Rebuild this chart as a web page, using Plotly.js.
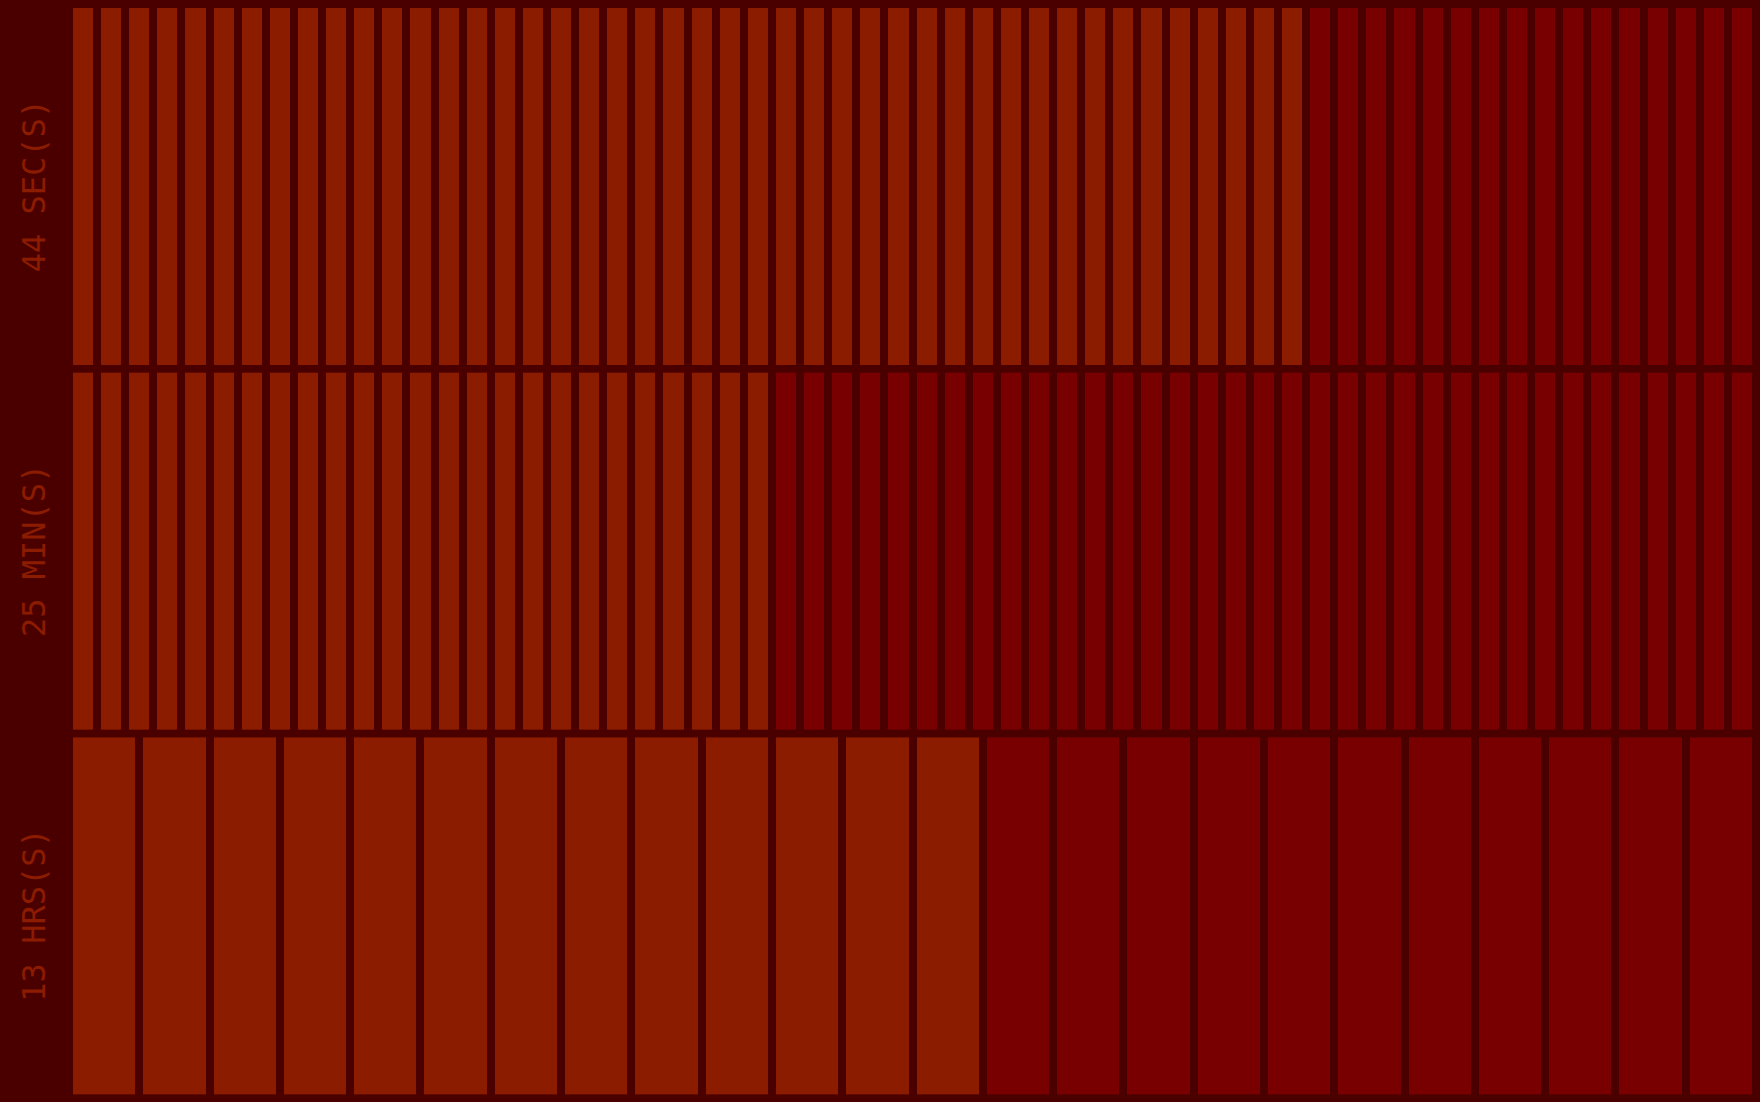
<!DOCTYPE html>
<html>
<head>
<meta charset="utf-8">
<script src="https://cdn.plot.ly/plotly-3.0.1.min.js"></script>
<style>html,body{margin:0;padding:0;background:#4b0000;}#chart{width:1760px;height:1102px;}</style>
</head>
<body>
<div id="chart"></div>
<script>
// Data: top row seconds, middle minutes, bottom hours
var rowLabels = ["44 SEC(S)", "25 MIN(S)", "13 HRS(S)"];
var litCounts = [44, 25, 13];
var totalCells = [60, 60, 24];

var BG = "#4b0000", LIT = "#8b1c00", UNLIT = "#780000";

var traces = [], annotations = [];
var layout = {
  width: 1760, height: 1102,
  paper_bgcolor: BG, plot_bgcolor: BG,
  margin: {l: 69, r: 4, t: 4, b: 4},
  showlegend: false
};

for (var r = 0; r < 3; r++) {
  var n = totalCells[r];
  var xs = [], zrow = [];
  for (var i = 0; i < n; i++) { xs.push(i); zrow.push(i < litCounts[r] ? 1 : 0); }
  var ax = r === 0 ? "" : String(r + 1);
  traces.push({
    type: "heatmap",
    x: xs, y: [0], z: [zrow],
    xaxis: "x" + ax, yaxis: "y" + ax,
    zmin: 0, zmax: 1,
    colorscale: [[0, UNLIT], [1, LIT]],
    showscale: false, xgap: 8, ygap: 8,
    hoverinfo: "skip"
  });
  var dTop = 1 - r / 3, dBot = 1 - (r + 1) / 3;
  layout["xaxis" + ax] = {range: [-0.5, n - 0.5], visible: false, fixedrange: true, anchor: "y" + ax};
  layout["yaxis" + ax] = {domain: [dBot, dTop], range: [-0.5, 0.5], visible: false, fixedrange: true, anchor: "x" + ax};
  annotations.push({
    text: rowLabels[r], xref: "paper", yref: "paper",
    x: -35 / 1687, y: (dTop + dBot) / 2, xanchor: "center", yanchor: "middle",
    textangle: -90, showarrow: false,
    font: {family: "DejaVu Sans Mono, monospace", size: 32, color: LIT}
  });
}
layout.annotations = annotations;

Plotly.newPlot("chart", traces, layout, {displayModeBar: false, staticPlot: true});
</script>
</body>
</html>
